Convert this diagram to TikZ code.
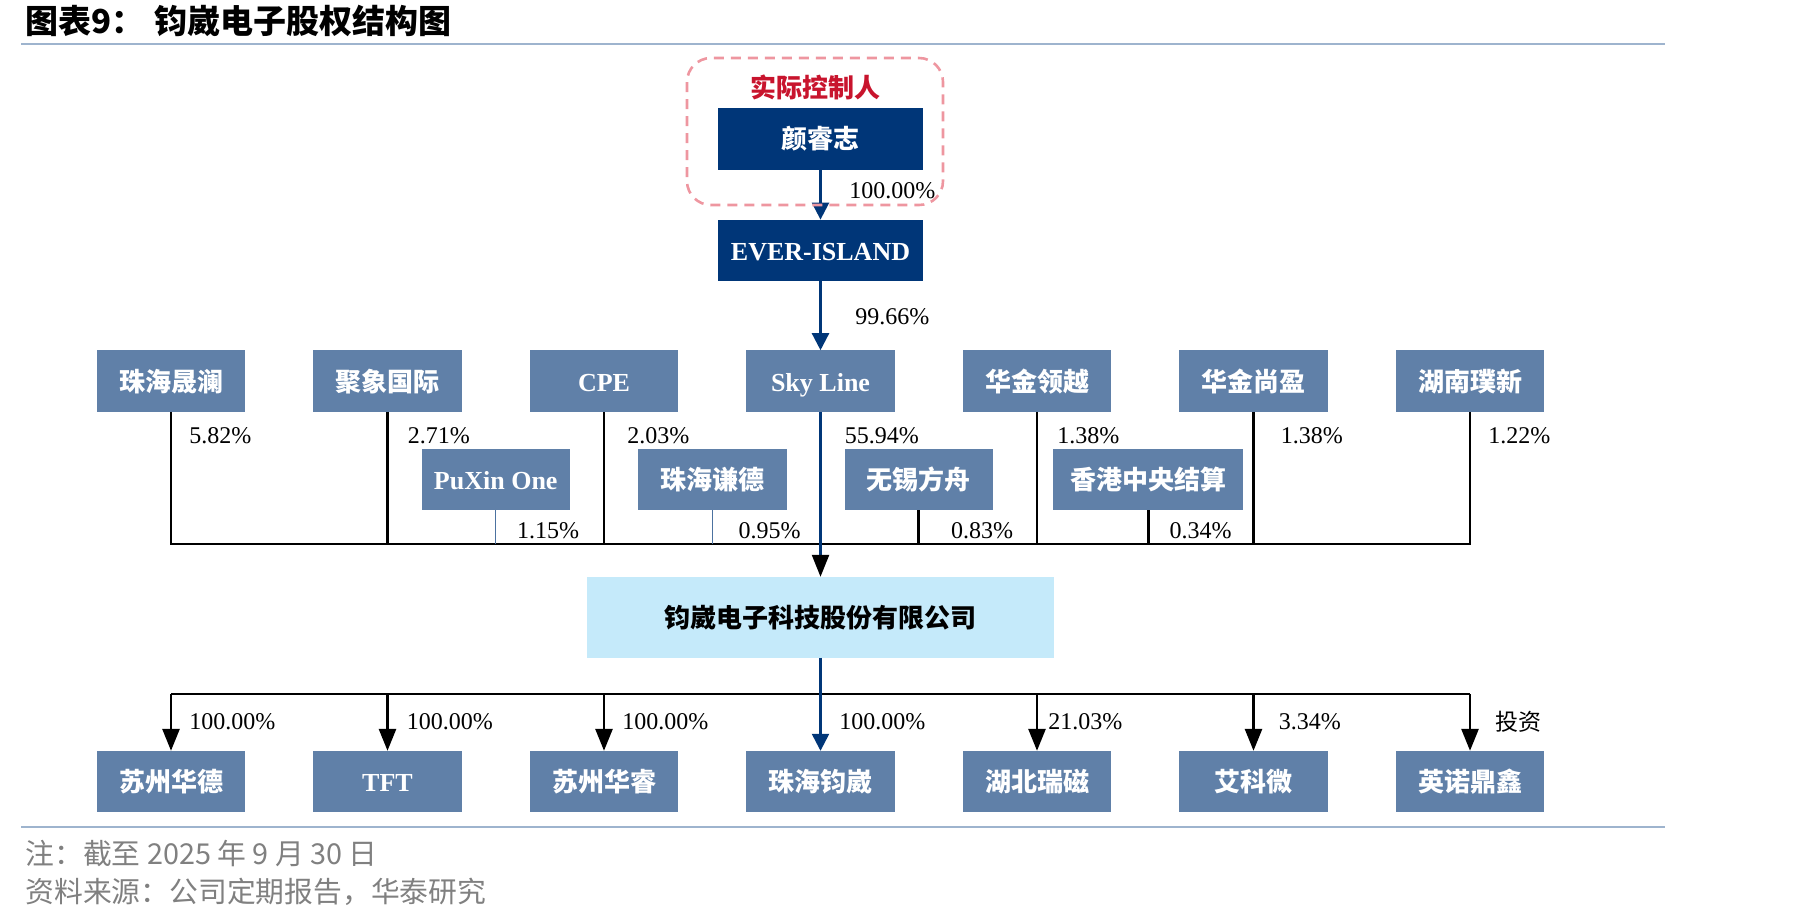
\documentclass[tikz,border=0pt]{standalone}
\usepackage{fontspec}
\setmainfont{Liberation Serif}
\newfontfamily\cjk{Noto Sans CJK SC}
\usetikzlibrary{positioning,calc,arrows.meta}

\definecolor{navy}{RGB}{0,54,120}
\definecolor{steel}{RGB}{96,128,168}
\definecolor{pale}{RGB}{197,234,250}
\definecolor{rulecol}{RGB}{158,180,206}
\definecolor{ctrlred}{RGB}{200,20,45}
\definecolor{ctrlpink}{RGB}{238,150,160}
\definecolor{notegray}{RGB}{128,128,128}

\begin{document}
\begin{tikzpicture}[%
    x=0.5pt,
    y=-0.5pt,
    >={Triangle[length=11pt,width=8.5pt]},
    node distance=34pt,
    holder/.style={%
      rectangle,
      fill=steel,
      text=white,
      minimum width=74.25pt,
      minimum height=30.8pt,
      inner sep=0pt,
      outer sep=0pt,
      text height=1.05em,
      text depth=0.05em,
      font=\fontsize{13}{15}\selectfont\bfseries\cjk
    },
    owner/.style={%
      holder,
      fill=navy,
      minimum width=102.5pt
    },
    pct/.style={%
      anchor=west,
      inner sep=0pt,
      font=\fontsize{12}{14}\selectfont
    },
    wire/.style={line width=1.4pt},
    link/.style={navy, line width=1.2pt},
    navytip/.style={-{Triangle[length=8.5pt,width=8.5pt]}}
  ]
    \useasboundingbox (0,0) rectangle (1819,923);

    % title, rules and notes
    \node[anchor=west, inner sep=0pt, font=\fontsize{16.5}{18}\selectfont\bfseries\cjk] (Title) at (25,21) {图表9：\hspace{0.3em}钧崴电子股权结构图};
    \draw[rulecol, line width=1.4pt] (21,44) -- (1665,44);
    \draw[rulecol, line width=1.4pt] (21,827) -- (1665,827);
    \node[anchor=west, inner sep=0pt, text=notegray, font=\fontsize{14.4}{16}\selectfont\cjk] (Note) at (25,853) {注：截至 2025 年 9 月 30 日};
    \node[anchor=west, inner sep=0pt, text=notegray, font=\fontsize{14.4}{16}\selectfont\cjk] (Source) at (25,892) {资料来源：公司定期报告，华泰研究};

    % shareholders
    \node[holder] (6) at (820.5,381) {\rmfamily Sky Line};
    \node[holder] (5) [left=of 6] {\rmfamily CPE};
    \node[holder] (4) [left=of 5] {聚象国际};
    \node[holder] (3) [left=of 4] {珠海晟澜};
    \node[holder] (7) [right=of 6] {华金领越};
    \node[holder] (8) [right=of 7] {华金尚盈};
    \node[holder] (9) [right=of 8] {湖南璞新};
    \node[owner] (2) [above=34.5pt of 6] {\rmfamily EVER-ISLAND};
    \node[owner] (1) [above=25pt of 2] {颜睿志};

    \coordinate (M1) at ($(4)!0.5!(5)$);
    \coordinate (M2) at ($(5)!0.5!(6)$);
    \coordinate (M3) at ($(6)!0.5!(7)$);
    \coordinate (M4) at ($(7)!0.5!(8)$);
    \node[holder] (10) [below=33.75pt of M1] {\rmfamily PuXin One};
    \node[holder] (11) [below=33.75pt of M2] {珠海谦德};
    \node[holder] (12) [below=33.75pt of M3, xshift=-5pt] {无锡方舟};
    \node[holder, minimum width=95pt] (13) [below=33.75pt of M4, xshift=1.5pt] {香港中央结算};

    % company and subsidiaries
    \node[holder, fill=pale, text=black, minimum width=233.75pt, minimum height=40.5pt] (14) [below=82.5pt of 6] {钧崴电子科技股份有限公司};
    \node[holder] (18) [below=46.5pt of 14] {珠海钧崴};
    \node[holder] (17) [left=of 18] {苏州华睿};
    \node[holder] (16) [left=of 17] {\rmfamily TFT};
    \node[holder] (15) [left=of 16] {苏州华德};
    \node[holder] (19) [right=of 18] {湖北瑞磁};
    \node[holder] (20) [right=of 19] {艾科微};
    \node[holder] (21) [right=of 20] {英诺鼎鑫};

    % connectors
    \coordinate (Up) at (0,544);
    \coordinate (Down) at (0,694);
    \draw[wire] (3.south) -- (3.south |- Up) -- (9.south |- Up) -- (9.south);
    \foreach \n in {4,5,7,8,12,13}
      \draw[wire] (\n.south) -- (\n.south |- Up);
    \foreach \n in {10,11}
      \draw[navy!70, line width=0.6pt] (\n.south) -- (\n.south |- Up);
    \draw[link, -{Triangle[length=11pt,width=8.5pt,color=black]}] (6) -- (14);
    \draw[link, navytip] (1) -- (2);
    \draw[link, navytip] (2) -- (6);
    \draw[wire] (15.north |- Down) -- (21.north |- Down);
    \foreach \n in {15,16,17,19,20,21}
      \draw[wire, ->] (\n.north |- Down) -- (\n.north);
    \draw[link, navytip] (14) -- (18);

    % percentages
    \node[pct] (P1) at ($(1.south)+(28.5,21)$) {100.00\%};
    \node[pct] (P2) at ($(2.south)+(34.5,35)$) {99.66\%};
    \foreach \n/\dx/\v in {3/18/5.82, 4/20/2.71, 5/23/2.03, 6/24/55.94, 7/20/1.38, 8/27/1.38, 9/18/1.22}
      \node[pct] (P\n) at ($(\n.south)+(\dx,23.5)$) {\v\%};
    \foreach \n/\dx/\v in {10/21/1.15, 11/26/0.95, 12/32/0.83, 13/21/0.34}
      \node[pct] (P\n) at ($(\n.south)+(\dx,21)$) {\v\%};
    \foreach \n/\dx/\v in {15/18/100.00, 16/19/100.00, 17/18/100.00, 18/18.5/100.00, 19/11/21.03, 20/25/3.34}
      \node[pct] (P\n) at ($(\n.north)+(\dx,-29)$) {\v\%};
    \node[pct, font=\fontsize{11.5}{13}\selectfont\cjk] (P21) at ($(21.north)+(25,-29)$) {投资};

    % actual controller
    \draw[ctrlpink, line width=1.3pt, dash pattern=on 5pt off 3.5pt, rounded corners=12pt] (687,58) rectangle (943,205);
    \node[text=ctrlred, font=\fontsize{13}{15}\selectfont\bfseries\cjk] (Ctrl) at (815,87) {实际控制人};
\end{tikzpicture}
\end{document}
